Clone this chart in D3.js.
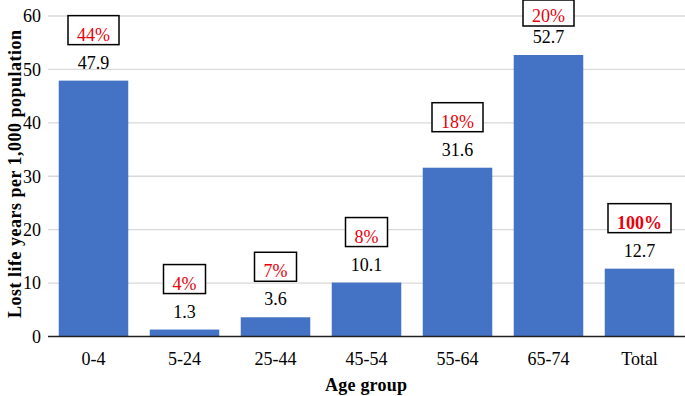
<!DOCTYPE html>
<html>
<head>
<meta charset="utf-8">
<script src="https://cdn.jsdelivr.net/npm/d3@7"></script>
<style>
  body { margin: 0; background: #fff; }
  svg text { font-family: "Times New Roman", "Liberation Serif", "DejaVu Serif", serif !important; }
</style>
</head>
<body>
<div id="chart"></div>
<script>
// data
var categories = ["0-4", "5-24", "25-44", "45-54", "55-64", "65-74", "Total"];
var lostYears = [47.9, 1.3, 3.6, 10.1, 31.6, 52.7, 12.7];
var shares = ["44%", "4%", "7%", "8%", "18%", "20%", "100%"];
var yTicks = [0, 10, 20, 30, 40, 50, 60];

var W = 685, H = 396;
var serif = "'Times New Roman', 'Liberation Serif', serif";
var svg = d3.select("#chart").append("svg")
    .attr("width", W).attr("height", H)
    .attr("font-family", serif);

var x = d3.scaleBand().domain(categories)
    .range([48, 685]).paddingInner(0.236).paddingOuter(0.118);
var y = d3.scaleLinear().domain([0, 60]).range([336.5, 16]);

// grid
svg.append("g").selectAll("line")
    .data(yTicks.filter(function(d) { return d > 0; }))
    .enter().append("line")
    .attr("x1", 48).attr("x2", 685)
    .attr("y1", function(d) { return y(d); })
    .attr("y2", function(d) { return y(d); })
    .attr("stroke", "#d9d9d9").attr("stroke-width", 1.3);

// y axis labels
var yAxis = svg.append("g")
    .attr("transform", "translate(48,0)")
    .call(d3.axisLeft(y).tickValues(yTicks).tickSize(0).tickPadding(7));
yAxis.attr("font-family", serif).attr("font-size", 18);
yAxis.select(".domain").remove();
yAxis.selectAll("text").attr("fill", "#000");

// bars
svg.append("g").selectAll("rect")
    .data(lostYears)
    .enter().append("rect")
    .attr("x", function(d, i) { return x(categories[i]); })
    .attr("width", x.bandwidth())
    .attr("y", function(d) { return y(d); })
    .attr("height", function(d) { return y(0) - y(d); })
    .attr("fill", "#4472c4");

// x axis
var xAxis = svg.append("g")
    .attr("transform", "translate(0," + y(0) + ")")
    .call(d3.axisBottom(x).tickSize(0).tickPadding(16).tickSizeOuter(0));
xAxis.attr("font-family", serif).attr("font-size", 18);
xAxis.select(".domain").attr("stroke", "#222").attr("stroke-width", 1.3)
    .attr("d", "M48,0H685");
xAxis.selectAll("text").attr("fill", "#000");

// value labels
svg.append("g").selectAll("text")
    .data(lostYears)
    .enter().append("text")
    .attr("x", function(d, i) { return x(categories[i]) + x.bandwidth() / 2; })
    .attr("y", function(d) { return y(d) - 12; })
    .attr("text-anchor", "middle")
    .style("font-size", "18px")
    .text(function(d) { return d.toFixed(1); });

// share boxes
var boxes = svg.append("g").selectAll("g")
    .data(lostYears)
    .enter().append("g");

boxes.each(function(d, i) {
  var g = d3.select(this);
  var cx = x(categories[i]) + x.bandwidth() / 2;
  var bottom = y(d) - 36, top = bottom - 29;
  if (top < 0) { top = 0; bottom = 26; }
  var t = g.append("text")
      .attr("x", cx).attr("y", bottom - 4)
      .attr("text-anchor", "middle")
      .attr("fill", "#e8000b")
      .style("font-size", "18px")
      .style("font-weight", shares[i] === "100%" ? "bold" : "normal")
      .text(shares[i]);
  var w = t.node().getComputedTextLength() + 18;
  g.insert("rect", "text")
      .attr("x", cx - w / 2).attr("y", top)
      .attr("width", w).attr("height", bottom - top)
      .attr("fill", "#fff").attr("stroke", "#000").attr("stroke-width", 1.5);
});

// axis titles
svg.append("text")
    .attr("x", 366).attr("y", 391)
    .attr("text-anchor", "middle")
    .style("font-size", "18px").style("font-weight", "bold")
    .attr("textLength", 82)
    .text("Age group");

svg.append("text")
    .attr("transform", "translate(21,174) rotate(-90)")
    .attr("text-anchor", "middle")
    .style("font-size", "18px").style("font-weight", "bold")
    .attr("textLength", 288)
    .text("Lost life years per 1,000 population");
</script>
</body>
</html>
